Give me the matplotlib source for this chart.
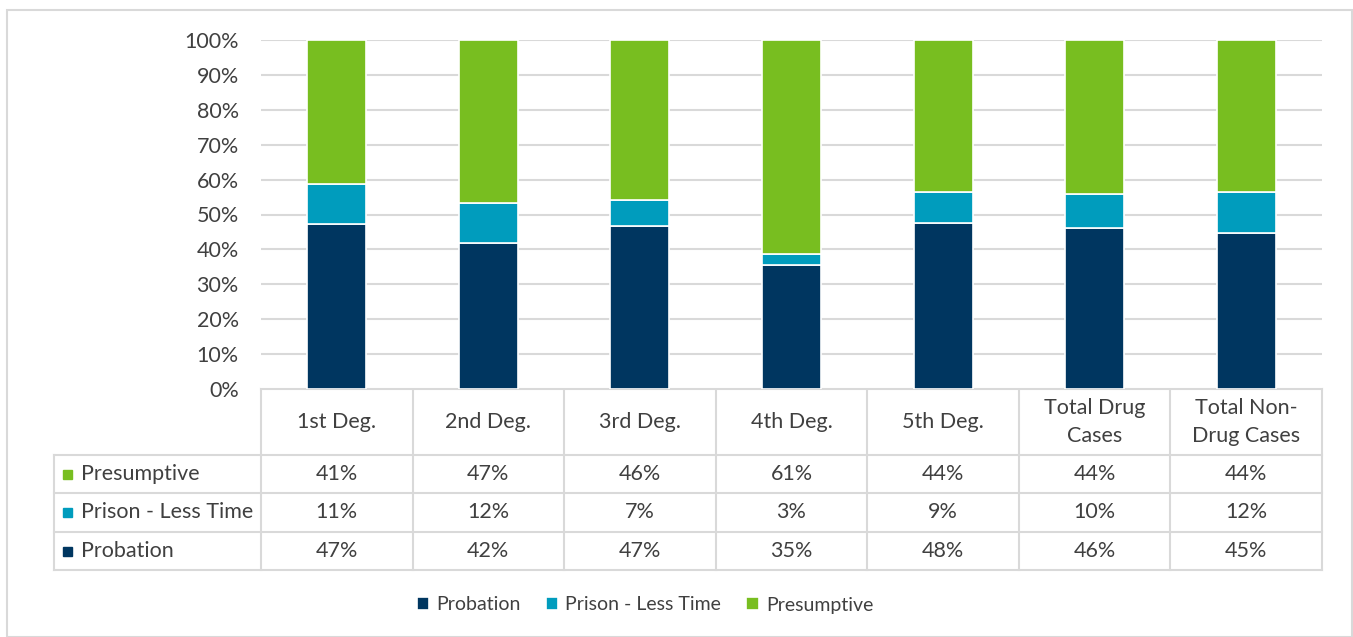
import numpy as np
import matplotlib.pyplot as plt
from matplotlib.patches import Rectangle

plt.rcParams['font.family'] = ['Lato', 'DejaVu Sans']

categories = ["1st Deg.", "2nd Deg.", "3rd Deg.", "4th Deg.", "5th Deg.",
              "Total Drug\nCases", "Total Non-\nDrug Cases"]
probation = [47.4, 41.8, 46.7, 35.4, 47.6, 46.1, 44.7]
prison_less = [11.2, 11.6, 7.4, 3.2, 8.8, 9.8, 11.7]
presumptive = [41.4, 46.6, 45.9, 61.4, 43.6, 44.1, 43.6]
y_ticks = [0, 10, 20, 30, 40, 50, 60, 70, 80, 90, 100]

series_names = ["Probation", "Prison - Less Time", "Presumptive"]
colors = ["#003660", "#009CBD", "#78BE20"]
text_col = "#404040"
line_col = "#d9d9d9"
fs = 15.5
fs_leg = 14

W, H = 1353, 637
fig = plt.figure(figsize=(W / 100, H / 100), dpi=100)

# outer frame
fig.patches.append(Rectangle((7 / W, 0), (1352 - 7) / W, 1 - 10 / H,
                             transform=fig.transFigure, fill=False,
                             edgecolor=line_col, linewidth=1.5))

# stacked bars
ax = fig.add_axes([261 / W, 1 - 389 / H, 1061 / W, 349 / H])
x = np.arange(len(categories))
bottom = np.zeros(len(categories))
for name, vals, c in zip(series_names, [probation, prison_less, presumptive], colors):
    ax.bar(x, vals, 0.39, bottom=bottom, color=c, edgecolor="white",
           linewidth=1.2, label=name, zorder=3)
    bottom += np.array(vals)

ax.set_xlim(-0.5, len(categories) - 0.5)
ax.set_ylim(0, 100)
ax.set_yticks(y_ticks)
ax.set_yticklabels([f"{t}%" for t in y_ticks], fontsize=fs, color=text_col)
ax.tick_params(axis="y", length=0, pad=16)
ax.set_xticks([])
ax.grid(axis="y", color=line_col, linewidth=1.5, zorder=0)
for s in ax.spines.values():
    s.set_visible(False)

# data table under the bars, in pixel units
tab = fig.add_axes([0, 0, 1, 1], zorder=-1)
tab.set_xlim(0, W)
tab.set_ylim(H, 0)
tab.axis("off")

left, lab_right, right = 54, 261, 1322
colw = (right - lab_right) / len(categories)
rows_y = [389, 455, 493, 532, 570]
kw = dict(color=line_col, linewidth=1.5)

tab.plot([lab_right, right], [rows_y[0]] * 2, **kw)
for yy in rows_y[1:]:
    tab.plot([left, right], [yy] * 2, **kw)
tab.plot([left, left], [rows_y[1], rows_y[-1]], **kw)
for i in range(len(categories) + 1):
    xx = lab_right + i * colw
    tab.plot([xx, xx], [rows_y[0], rows_y[-1]], **kw)

for i, cat in enumerate(categories):
    cx = lab_right + (i + 0.5) * colw
    tab.text(cx, (rows_y[0] + rows_y[1]) / 2, cat, ha="center", va="center",
             fontsize=fs, color=text_col, linespacing=1.5)

table_rows = [("Presumptive", presumptive, colors[2]),
              ("Prison - Less Time", prison_less, colors[1]),
              ("Probation", probation, colors[0])]
for r, (name, vals, c) in enumerate(table_rows):
    cy = (rows_y[r + 1] + rows_y[r + 2]) / 2
    tab.add_patch(Rectangle((63, cy - 4.5), 9, 9, color=c))
    tab.text(81, cy, name, ha="left", va="center", fontsize=fs, color=text_col)
    for i, v in enumerate(vals):
        cx = lab_right + (i + 0.5) * colw
        tab.text(cx, cy, f"{v:.0f}%", ha="center", va="center",
                 fontsize=fs, color=text_col)

fig.legend(loc="center", bbox_to_anchor=(645 / W, 1 - 605 / H), ncol=3,
           frameon=False, fontsize=fs_leg, handlelength=0.65, handleheight=0.65,
           handletextpad=0.35, columnspacing=1.3, labelcolor=text_col)

fig.savefig("out.png", dpi=100, facecolor="white")
